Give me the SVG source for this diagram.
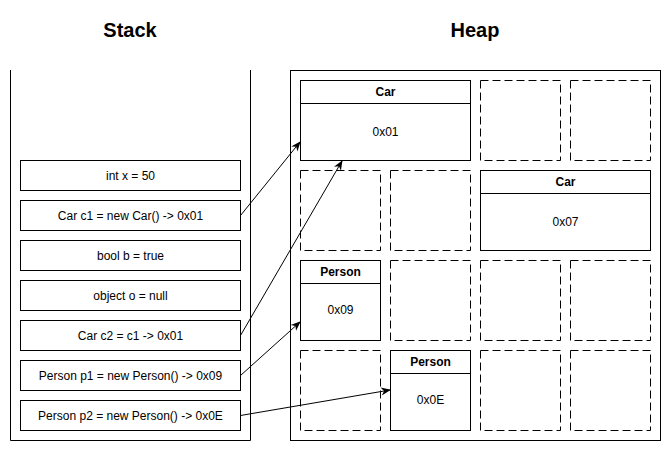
<svg xmlns="http://www.w3.org/2000/svg" width="671" height="451" viewBox="0 0 671 451">
<defs>
<style>
text{font-family:"Liberation Sans",Arial,sans-serif;fill:#000;text-anchor:middle}
.title{font-size:20px;font-weight:bold}
.t{font-size:12px}
.h{font-size:12px;font-weight:bold}
.box{fill:#fff;stroke:#000;stroke-width:1}
.cell{fill:none;stroke:#000;stroke-width:1;stroke-dasharray:8 4}
.edge{fill:none;stroke:#000;stroke-width:1;marker-end:url(#arr)}
</style>
<marker id="arr" viewBox="0 0 10 10" refX="9" refY="5" markerWidth="10" markerHeight="10" markerUnits="userSpaceOnUse" orient="auto">
<path d="M0,1 L10,5 L0,9 L3,5 Z" fill="#000"/>
</marker>
</defs>
<rect width="671" height="451" fill="#fff"/>
<text class="title" x="130" y="37">Stack</text>
<text class="title" x="475" y="37">Heap</text>
<g id="stack">
<path d="M10.5,70 V440.5 H250.5 V70" fill="none" stroke="#000"/>
</g>
<g id="s-int"><rect class="box" x="20.5" y="160.5" width="220" height="30"/><text class="t" x="130.5" y="180">int x = 50</text></g>
<g id="s-c1"><rect class="box" x="20.5" y="200.5" width="220" height="30"/><text class="t" x="130.5" y="220">Car c1 = new Car() -&gt; 0x01</text></g>
<g id="s-bool"><rect class="box" x="20.5" y="240.5" width="220" height="30"/><text class="t" x="130.5" y="260">bool b = true</text></g>
<g id="s-obj"><rect class="box" x="20.5" y="280.5" width="220" height="30"/><text class="t" x="130.5" y="300">object o = null</text></g>
<g id="s-c2"><rect class="box" x="20.5" y="320.5" width="220" height="30"/><text class="t" x="130.5" y="340">Car c2 = c1 -&gt; 0x01</text></g>
<g id="s-p1"><rect class="box" x="20.5" y="360.5" width="220" height="30"/><text class="t" x="130.5" y="380">Person p1 = new Person() -&gt; 0x09</text></g>
<g id="s-p2"><rect class="box" x="20.5" y="400.5" width="220" height="30"/><text class="t" x="130.5" y="420">Person p2 = new Person() -&gt; 0x0E</text></g>
<g id="heap"><rect x="290.5" y="70.5" width="370" height="370" fill="none" stroke="#000"/></g>
<g id="cells">
<rect class="cell" x="480.5" y="80.5" width="80" height="80"/>
<rect class="cell" x="570.5" y="80.5" width="80" height="80"/>
<rect class="cell" x="300.5" y="170.5" width="80" height="80"/>
<rect class="cell" x="390.5" y="170.5" width="80" height="80"/>
<rect class="cell" x="390.5" y="260.5" width="80" height="80"/>
<rect class="cell" x="480.5" y="260.5" width="80" height="80"/>
<rect class="cell" x="570.5" y="260.5" width="80" height="80"/>
<rect class="cell" x="300.5" y="350.5" width="80" height="80"/>
<rect class="cell" x="480.5" y="350.5" width="80" height="80"/>
<rect class="cell" x="570.5" y="350.5" width="80" height="80"/>
</g>
<g id="h-car1"><rect class="box" x="300.5" y="80.5" width="170" height="80"/><line x1="300.5" y1="103.5" x2="470.5" y2="103.5" stroke="#000"/><text class="h" x="385.5" y="96">Car</text><text class="t" x="385.5" y="136">0x01</text></g>
<g id="h-car7"><rect class="box" x="480.5" y="170.5" width="170" height="80"/><line x1="480.5" y1="193.5" x2="650.5" y2="193.5" stroke="#000"/><text class="h" x="565.5" y="186">Car</text><text class="t" x="565.5" y="226">0x07</text></g>
<g id="h-p9"><rect class="box" x="300.5" y="260.5" width="80" height="80"/><line x1="300.5" y1="283.5" x2="380.5" y2="283.5" stroke="#000"/><text class="h" x="340.5" y="276">Person</text><text class="t" x="340.5" y="314">0x09</text></g>
<g id="h-pE"><rect class="box" x="390.5" y="350.5" width="80" height="80"/><line x1="390.5" y1="373.5" x2="470.5" y2="373.5" stroke="#000"/><text class="h" x="430.5" y="366">Person</text><text class="t" x="430.5" y="404">0x0E</text></g>
<g id="connectors">
<line class="edge" x1="240.5" y1="215.5" x2="300" y2="142"/>
<line class="edge" x1="240.5" y1="335.5" x2="342" y2="161"/>
<line class="edge" x1="240.5" y1="375.5" x2="300" y2="322"/>
<line class="edge" x1="240.5" y1="415.5" x2="390" y2="390"/>
</g>
</svg>
